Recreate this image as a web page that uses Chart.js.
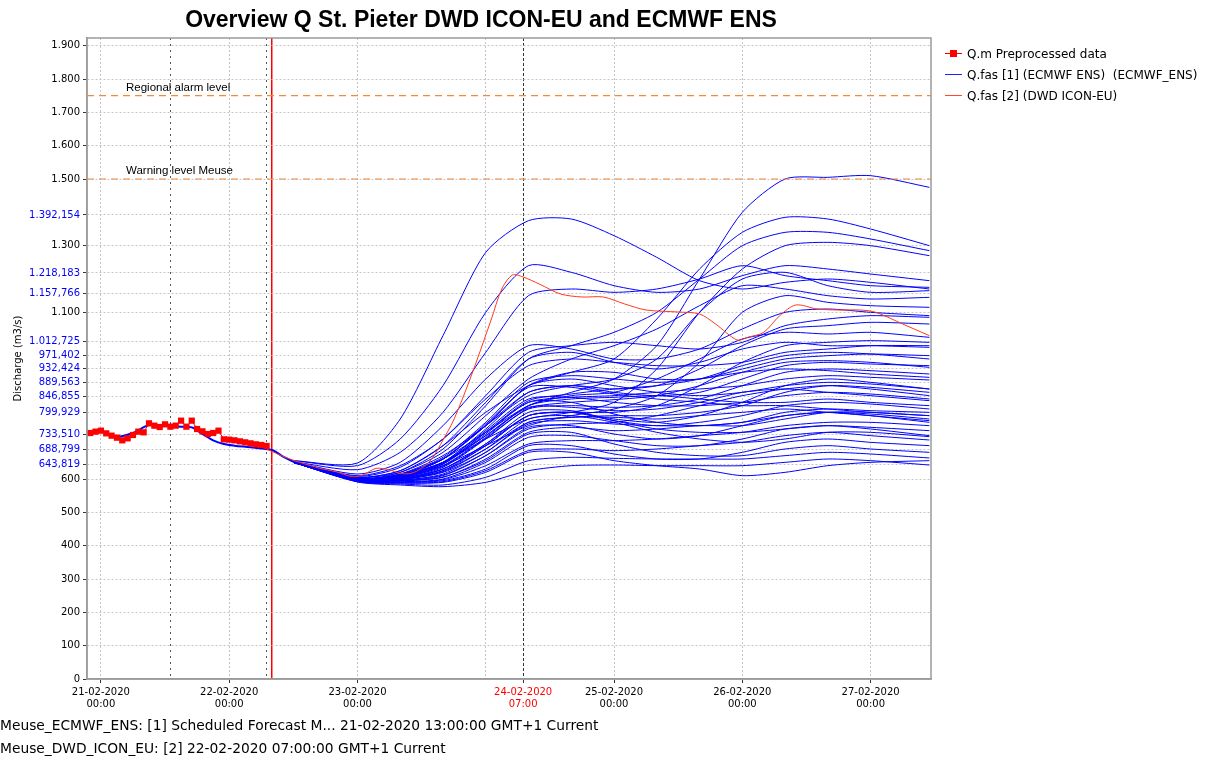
<!DOCTYPE html>
<html>
<head>
<meta charset="utf-8">
<title>Overview Q St. Pieter DWD ICON-EU and ECMWF ENS</title>
<script src="https://cdn.jsdelivr.net/npm/chart.js@4.4.1/dist/chart.umd.min.js"></script>
<style>
  body { margin: 0; background: #fff; font-family: 'DejaVu Sans', sans-serif; color: #000; }
  #page { position: relative; width: 1210px; height: 758px; overflow: hidden; }
  #title { position: absolute; left: 0; top: 6px; width: 962px; text-align: center;
           font: bold 23px 'Liberation Sans', Arial, sans-serif; line-height: 26px; }
  #chart { position: absolute; left: 0; top: 0; }
  #legend { position: absolute; left: 945px; top: 43px; font-size: 12px; }
  .item { height: 21px; display: flex; align-items: center; white-space: pre; }
  .swatch { position: relative; width: 17px; height: 0; border-top: 1px solid; margin-right: 5px; }
  .swatch i { position: absolute; left: 5px; top: -4px; width: 7px; height: 7px; background: #f00; }
  .foot { position: absolute; left: 0; font-size: 13.8px; line-height: 20px; white-space: pre; }
</style>
</head>
<body>
<div id="page">
  <canvas id="chart" width="960" height="720"></canvas>
  <div id="title">Overview Q St. Pieter DWD ICON-EU and ECMWF ENS</div>
  <div id="legend">
    <div class="item"><span class="swatch" style="border-color:#ff0000"><i></i></span>Q.m Preprocessed data</div>
    <div class="item"><span class="swatch" style="border-color:#2020ff"></span>Q.fas [1] (ECMWF ENS)  (ECMWF_ENS)</div>
    <div class="item"><span class="swatch" style="border-color:#ff4a2a"></span>Q.fas [2] (DWD ICON-EU)</div>
  </div>
  <div class="foot" style="top:715px">Meuse_ECMWF_ENS: [1] Scheduled Forecast M... 21-02-2020 13:00:00 GMT+1 Current</div>
  <div class="foot" style="top:738px">Meuse_DWD_ICON_EU: [2] 22-02-2020 07:00:00 GMT+1 Current</div>
</div>
<script>
// all times are hours after 21-02-2020 00:00 (GMT+1)
const xMin = -2.6, xMax = 155.3;
const yMin = 0, yMax = 1923;

const xLabelHours = [0, 24, 48, 79, 96, 120, 144];
const xLabelText = [
  ['21-02-2020', '00:00'], ['22-02-2020', '00:00'], ['23-02-2020', '00:00'],
  ['24-02-2020', '07:00'], ['25-02-2020', '00:00'], ['26-02-2020', '00:00'], ['27-02-2020', '00:00']
];
const xMarkerHours = [13, 31, 32, 72];   // forecast T0s, current time, day line without label

const yTickValues = [0, 100, 200, 300, 400, 500, 600, 643.819, 688.799, 733.51, 799.929, 846.855,
  889.563, 932.424, 971.402, 1012.725, 1100, 1157.766, 1218.183, 1300, 1392.154, 1500, 1600, 1700, 1800, 1900];
const yTickLabels = ['0', '100', '200', '300', '400', '500', '600', '643,819', '688,799', '733,510', '799,929', '846,855',
  '889,563', '932,424', '971,402', '1.012,725', '1.100', '1.157,766', '1.218,183', '1.300', '1.392,154', '1.500', '1.600', '1.700', '1.800', '1.900'];

const thresholdNames = ['Regional alarm level', 'Warning level Meuse'];
const thresholdValues = [1750, 1500];

// Q.m Preprocessed data (observed)
const obsHours = [-2, -1, 0, 1, 2, 3, 4, 5, 6, 7, 8, 9, 10, 11, 12, 13, 14, 15, 16, 17, 18, 19, 20, 21, 22, 23, 24, 25, 26, 27, 28, 29, 30, 31];
const obsValues = [738, 742, 745, 737, 730, 724, 716, 722, 732, 742, 740, 767, 760, 756, 764, 757, 760, 775, 757, 775,
  750, 743, 735, 738, 745, 719, 718, 716, 713, 710, 707, 704, 702, 699];

// Q.fas [2] DWD ICON-EU
const dwdHours = [31, 35, 41, 44, 47, 49, 51.5, 54, 56, 58, 60, 62, 64, 66, 69, 73, 75, 77, 79, 82,
  86, 90, 94, 98, 102, 108, 112, 115, 119, 121, 124, 127, 130, 134, 138, 142, 145, 150, 155];
const dwdValues = [690, 662, 632, 622, 607, 612, 632, 627, 617, 617, 632, 662, 717, 777, 897, 1077, 1170, 1212, 1206, 1185,
  1155, 1146, 1146, 1125, 1107, 1101, 1095, 1065, 1017, 1025, 1040, 1090, 1122, 1110, 1107, 1107, 1100, 1065, 1030];

// Q.fas [1] ECMWF ENS: common part before the members split
const ensHistHours = [-2.6, 0, 3, 6, 9, 12, 15, 17, 19, 21, 23, 25, 28, 32, 34, 36];
const ensHistValues = [738, 742, 727, 738, 762, 760, 757, 755, 735, 716, 705, 700, 695, 687, 668, 652];

// members
const ensHours = [36, 48, 56, 64, 72, 80, 88, 96, 104, 112, 120, 128, 136, 144, 155];
const ensMembers = [
  [655, 648, 780, 1030, 1280, 1375, 1380, 1330, 1265, 1195, 1170, 1190, 1200, 1190, 1170],
  [650, 600, 615, 660, 740, 820, 860, 900, 1000, 1200, 1400, 1500, 1505, 1510, 1475],
  [650, 605, 625, 700, 800, 880, 920, 960, 1080, 1230, 1340, 1385, 1380, 1350, 1300],
  [650, 600, 620, 690, 820, 960, 1000, 1040, 1100, 1200, 1300, 1340, 1340, 1320, 1285],
  [650, 598, 612, 650, 720, 780, 800, 830, 930, 1100, 1230, 1300, 1310, 1300, 1270],
  [655, 640, 720, 880, 1100, 1240, 1220, 1180, 1160, 1170, 1210, 1240, 1230, 1215, 1195],
  [652, 628, 680, 800, 980, 1150, 1170, 1160, 1170, 1200, 1240, 1210, 1195, 1180, 1175],
  [650, 600, 610, 660, 760, 850, 880, 900, 960, 1100, 1200, 1220, 1180, 1160, 1165],
  [650, 605, 620, 680, 790, 900, 960, 1000, 1050, 1120, 1180, 1170, 1150, 1140, 1145],
  [650, 600, 605, 640, 700, 760, 790, 810, 850, 950, 1100, 1150, 1130, 1120, 1115],
  [650, 610, 640, 720, 850, 980, 1000, 1010, 1000, 990, 1010, 1060, 1080, 1090, 1085],
  [650, 600, 615, 670, 760, 860, 880, 870, 880, 930, 1000, 1050, 1060, 1070, 1065],
  [650, 602, 610, 650, 730, 820, 850, 860, 900, 960, 1020, 1040, 1035, 1040, 1025],
  [650, 598, 600, 630, 700, 790, 800, 800, 820, 880, 950, 1000, 1010, 1015, 1010],
  [650, 605, 625, 700, 830, 960, 980, 950, 930, 950, 990, 1010, 1000, 1000, 995],
  [650, 600, 610, 660, 760, 880, 920, 920, 900, 900, 930, 960, 970, 975, 970],
  [650, 600, 608, 650, 750, 860, 880, 860, 850, 860, 900, 940, 950, 945, 940],
  [650, 597, 600, 635, 720, 810, 820, 815, 820, 840, 880, 920, 930, 925, 915],
  [650, 600, 605, 645, 740, 830, 845, 850, 860, 870, 880, 900, 910, 905, 897],
  [650, 603, 612, 660, 760, 880, 900, 880, 860, 850, 860, 880, 890, 885, 870],
  [650, 598, 600, 625, 690, 770, 785, 790, 790, 800, 820, 860, 880, 875, 860],
  [650, 600, 606, 650, 745, 840, 845, 830, 820, 820, 830, 850, 860, 855, 840],
  [650, 597, 598, 625, 700, 790, 800, 775, 760, 770, 790, 820, 830, 825, 810],
  [650, 596, 596, 615, 680, 765, 775, 765, 760, 760, 770, 800, 810, 805, 800],
  [650, 595, 594, 605, 660, 740, 755, 745, 750, 760, 760, 780, 800, 800, 790],
  [650, 600, 604, 645, 735, 830, 830, 795, 770, 760, 770, 790, 800, 795, 780],
  [650, 596, 595, 610, 670, 755, 760, 735, 720, 730, 760, 790, 800, 790, 770],
  [650, 594, 590, 598, 640, 705, 715, 715, 720, 730, 740, 760, 770, 770, 760],
  [650, 597, 600, 630, 705, 800, 805, 775, 750, 740, 740, 750, 760, 755, 745],
  [650, 595, 592, 600, 650, 725, 730, 715, 700, 700, 720, 750, 760, 750, 730],
  [650, 593, 588, 592, 625, 685, 690, 685, 690, 700, 710, 730, 740, 730, 717],
  [650, 594, 590, 595, 630, 700, 700, 675, 660, 660, 680, 710, 720, 710, 700],
  [650, 596, 595, 606, 655, 735, 740, 705, 680, 670, 670, 690, 700, 690, 680],
  [650, 592, 585, 582, 605, 655, 665, 662, 660, 660, 660, 670, 680, 675, 663],
  [650, 591, 582, 577, 590, 625, 640, 642, 640, 640, 640, 650, 660, 655, 642],
  [650, 593, 588, 590, 620, 680, 680, 655, 640, 630, 610, 620, 640, 650, 655],
  [650, 598, 602, 640, 725, 820, 840, 845, 850, 840, 830, 830, 840, 830, 820],
  [650, 599, 604, 645, 730, 815, 815, 805, 810, 830, 860, 870, 860, 850, 835],
  [650, 601, 610, 660, 765, 875, 875, 855, 840, 830, 820, 820, 810, 800, 790],
  [650, 597, 598, 620, 680, 770, 785, 785, 780, 790, 800, 810, 800, 790, 775],
  [652, 615, 650, 760, 900, 1000, 990, 960, 960, 990, 1050, 1100, 1110, 1100, 1090],
  [650, 608, 635, 720, 840, 940, 960, 950, 940, 940, 950, 980, 990, 1000, 1000],
  [650, 599, 603, 638, 722, 812, 830, 838, 850, 880, 920, 950, 955, 950, 935],
  [650, 596, 597, 612, 670, 750, 765, 770, 790, 820, 850, 870, 880, 870, 850],
  [650, 598, 601, 630, 705, 790, 800, 780, 770, 790, 830, 880, 900, 890, 870],
  [650, 600, 607, 648, 740, 835, 855, 870, 880, 900, 940, 970, 980, 975, 960],
  [650, 597, 599, 622, 690, 780, 790, 770, 740, 720, 710, 720, 740, 740, 727],
  [650, 602, 614, 665, 770, 890, 910, 900, 890, 900, 920, 930, 925, 915, 905]
];

const toPoints = (hs, vs) => hs.map((h, i) => ({ x: h, y: vs[i] }));

function xGridStyle(v) {
  if (v === 32) return { color: '#ff0000', dash: [], width: 1.5 };
  if (v === 13 || v === 31) return { color: '#555555', dash: [2, 4], width: 1 };
  if (v === 79) return { color: '#333333', dash: [3, 2], width: 1 };
  return { color: '#c4c4c4', dash: [2, 2], width: 1 };
}

const datasets = [
  {
    label: 'Q.m Preprocessed data',
    data: toPoints(obsHours, obsValues),
    borderColor: '#ff0000', backgroundColor: '#ff0000', borderWidth: 1,
    pointStyle: 'rect', pointRadius: 4.4, pointBorderWidth: 0
  },
  {
    label: 'Q.fas [2] (DWD ICON-EU)',
    data: toPoints(dwdHours, dwdValues),
    borderColor: '#ff3a1a', borderWidth: 1, pointRadius: 0, tension: 0.3
  }
];
thresholdValues.forEach((v, i) => {
  datasets.push({
    label: thresholdNames[i],
    data: [{ x: xMin, y: v }, { x: xMax, y: v }],
    borderColor: '#f08a3c', borderWidth: 1.2, borderDash: [7, 5], pointRadius: 0
  });
});
ensMembers.forEach((m, i) => {
  datasets.push({
    label: 'Q.fas [1] member ' + i,
    data: toPoints(ensHours, m),
    borderColor: '#0000ff', borderWidth: 1, pointRadius: 0, tension: 0.25
  });
});
datasets.push({
  label: 'Q.fas [1] common',
  data: toPoints(ensHistHours, ensHistValues),
  borderColor: '#0000ff', borderWidth: 2, pointRadius: 0, tension: 0.3
});

// level names above the threshold lines, plus the frame round the plot
const levelLabels = {
  id: 'levelLabels',
  afterDatasetsDraw(chart) {
    const { ctx, chartArea, scales: { x, y } } = chart;
    ctx.save();
    ctx.font = '11.5px "Liberation Sans", Arial, sans-serif';
    ctx.fillStyle = '#000';
    ctx.textBaseline = 'bottom';
    thresholdNames.forEach((name, i) => {
      ctx.fillText(name, x.getPixelForValue(4.7), y.getPixelForValue(thresholdValues[i]) - 2);
    });
    ctx.strokeStyle = '#9a9a9a';
    ctx.lineWidth = 1.5;
    ctx.strokeRect(chartArea.left, chartArea.top, chartArea.right - chartArea.left, chartArea.bottom - chartArea.top);
    ctx.restore();
  }
};

const tickFont = { family: "'DejaVu Sans', sans-serif", size: 10 };

new Chart(document.getElementById('chart').getContext('2d'), {
  type: 'line',
  data: { datasets },
  plugins: [levelLabels],
  options: {
    responsive: false,
    animation: false,
    layout: { padding: { top: 38, right: 29, left: 0, bottom: 0 } },
    plugins: { legend: { display: false }, tooltip: { enabled: false }, title: { display: false } },
    scales: {
      x: {
        type: 'linear', min: xMin, max: xMax,
        afterFit: s => { s.height = 41; },
        afterBuildTicks: s => {
          s.ticks = xLabelHours.concat(xMarkerHours).sort((a, b) => a - b).map(v => ({ value: v }));
        },
        ticks: {
          autoSkip: false, maxRotation: 0, padding: 3, font: tickFont,
          color: c => (c.tick && c.tick.value === 79 ? '#ff0000' : '#000'),
          callback: v => {
            const i = xLabelHours.indexOf(v);
            return i < 0 ? '' : xLabelText[i];
          }
        },
        grid: {
          tickLength: 4,
          color: c => xGridStyle(c.tick ? c.tick.value : 0).color,
          lineWidth: c => xGridStyle(c.tick ? c.tick.value : 0).width,
          tickColor: c => (c.tick && xLabelHours.includes(c.tick.value) ? '#333' : 'rgba(0,0,0,0)')
        },
        border: {
          color: '#9a9a9a', width: 1.5,
          dash: c => (c.tick ? xGridStyle(c.tick.value).dash : [])
        }
      },
      y: {
        type: 'linear', min: yMin, max: yMax,
        afterFit: s => { s.width = 87; },
        afterBuildTicks: s => { s.ticks = yTickValues.map(v => ({ value: v })); },
        title: { display: true, text: 'Discharge (m3/s)', font: tickFont, color: '#000', padding: { top: 12, bottom: 0 } },
        ticks: {
          autoSkip: false, padding: 3, font: tickFont,
          color: c => (c.tick && c.tick.value % 100 !== 0 ? '#0000ff' : '#000'),
          callback: v => yTickLabels[yTickValues.indexOf(v)]
        },
        grid: { tickLength: 4, color: '#c4c4c4', tickColor: '#333', lineWidth: 1 },
        border: { color: '#9a9a9a', width: 1.5, dash: c => (c.tick ? [2, 2] : []) }
      }
    }
  }
});
</script>
</body>
</html>
